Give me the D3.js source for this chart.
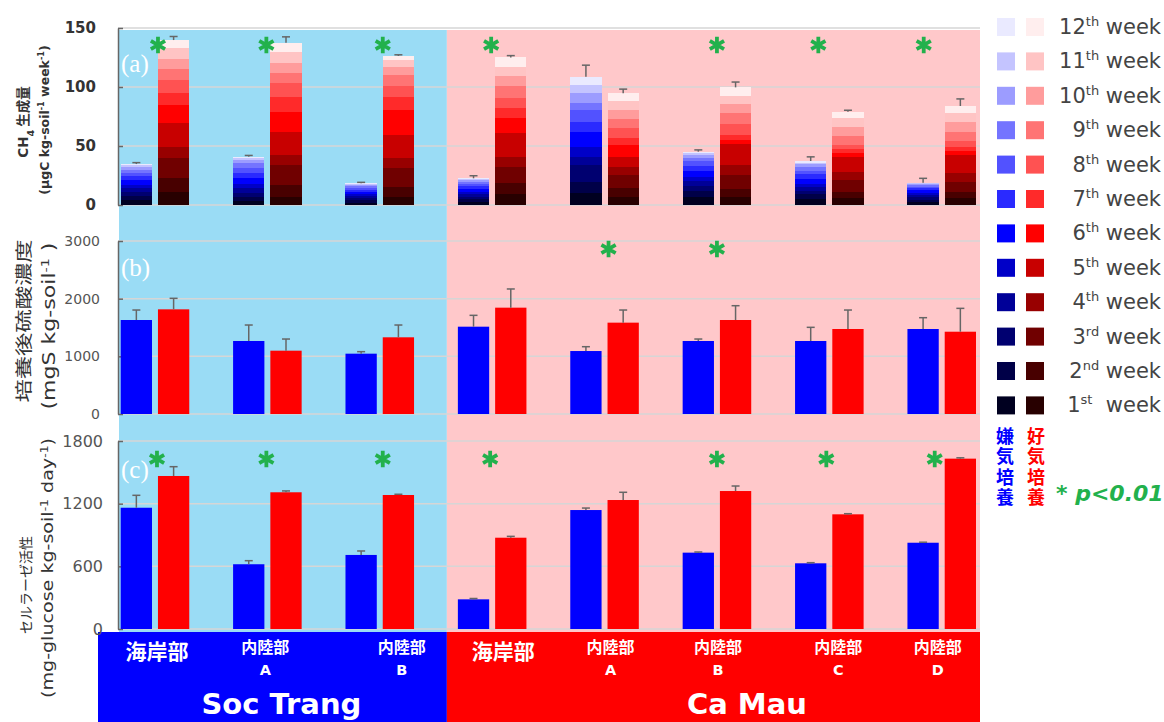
<!DOCTYPE html>
<html>
<head>
<meta charset="utf-8">
<script src="https://cdn.jsdelivr.net/npm/d3@7"></script>
<style>
  body { margin: 0; background: #fff; }
  svg { display: block; }
</style>
</head>
<body>
<svg id="chart" width="1164" height="722"></svg>
<script>
// ---- data ----
const categories = ["ST-coast", "ST-A", "ST-B", "CM-coast", "CM-A", "CM-B", "CM-C", "CM-D"];
const siteNames = ["海岸部", "内陸部", "内陸部", "海岸部", "内陸部", "内陸部", "内陸部", "内陸部"];
const siteSubs = ["", "A", "B", "", "A", "B", "C", "D"];
const regionNames = ["Soc Trang", "Ca Mau"];
const regionOf = [0, 0, 0, 1, 1, 1, 1, 1];
const treatments = ["anaerobic", "aerobic"];
const weekNums = ["1", "2", "3", "4", "5", "6", "7", "8", "9", "10", "11", "12"];
const weekSuffix = ["st", "nd", "rd", "th", "th", "th", "th", "th", "th", "th", "th", "th"];

// (a) weekly CH4 production, 1st..12th week
const ch4Anaerobic = [
  [4.0, 3.5, 3.5, 3.0, 3.0, 4.0, 3.5, 3.0, 2.5, 2.0, 1.5, 1.2],
  [3.5, 3.5, 3.5, 3.5, 4.0, 4.5, 4.5, 4.5, 4.5, 2.0, 1.5, 1.5],
  [2.0, 2.0, 2.0, 1.5, 1.5, 2.0, 2.0, 1.5, 1.5, 1.0, 0.8, 0.6],
  [2.5, 2.5, 2.0, 2.0, 2.0, 2.5, 2.5, 2.0, 1.8, 1.3, 1.0, 0.5],
  [9.9, 9.9, 14.1, 7.0, 8.5, 12.7, 8.5, 9.9, 6.2, 8.0, 7.0, 7.0],
  [7.0, 5.0, 4.0, 4.0, 4.0, 5.0, 4.0, 4.0, 3.0, 2.5, 1.5, 1.2],
  [5.0, 4.0, 3.0, 3.0, 3.0, 4.0, 4.0, 3.0, 3.0, 2.5, 1.5, 1.3],
  [2.5, 2.0, 2.0, 2.0, 2.0, 2.0, 1.5, 1.5, 1.2, 1.0, 0.8, 0.4]
];
const ch4Aerobic = [
  [11.3, 11.3, 16.9, 9.9, 19.8, 15.5, 9.9, 11.3, 9.1, 8.9, 8.8, 7.1],
  [7.1, 9.8, 17.0, 8.5, 19.7, 17.0, 12.7, 11.3, 8.5, 8.5, 9.8, 7.6],
  [7.1, 8.4, 15.6, 8.4, 19.8, 21.2, 11.3, 9.0, 9.4, 7.0, 5.7, 3.4],
  [9.0, 9.4, 14.1, 8.5, 19.7, 12.7, 9.1, 7.9, 10.4, 8.5, 7.9, 7.9],
  [7.1, 7.0, 11.3, 7.1, 8.5, 9.8, 5.7, 8.5, 7.6, 7.9, 7.9, 6.3],
  [7.1, 6.2, 12.1, 8.5, 17.8, 3.4, 4.2, 9.3, 9.1, 7.9, 7.1, 7.0],
  [5.6, 5.7, 9.9, 7.0, 12.8, 2.8, 3.4, 3.6, 7.7, 7.3, 7.6, 5.7],
  [5.6, 5.7, 8.5, 7.0, 15.6, 3.7, 3.3, 5.1, 7.6, 8.0, 7.6, 6.2]
];
const ch4AnaerobicSE = [1.2, 1.0, 0.8, 2.2, 9.8, 1.5, 3.5, 3.7];
const ch4AerobicSE = [3.0, 5.0, 1.0, 1.5, 3.5, 4.5, 1.2, 6.0];

// (b) sulfate concentration after incubation
const sulfateAnaerobic = [1630, 1266, 1046, 1514, 1092, 1266, 1266, 1474];
const sulfateAnaerobicSE = [173, 277, 35, 197, 75, 34, 237, 196];
const sulfateAerobic = [1815, 1098, 1330, 1844, 1584, 1630, 1474, 1427];
const sulfateAerobicSE = [191, 202, 213, 324, 219, 248, 329, 405];

// (c) cellulase activity
const cellulaseAnaerobic = [1161, 620, 709, 284, 1139, 731, 629, 826];
const cellulaseAnaerobicSE = [119, 34, 38, 8, 19, 6, 6, 5];
const cellulaseAerobic = [1465, 1309, 1283, 874, 1235, 1321, 1098, 1631];
const cellulaseAerobicSE = [89, 13, 7, 13, 74, 48, 6, 8];

// significance (p<0.01) between treatments
const sigCH4 = [1, 1, 1, 1, 0, 1, 1, 1];
const sigSulfate = [0, 0, 0, 0, 1, 1, 0, 0];
const sigCellulase = [1, 1, 1, 1, 0, 1, 1, 1];

const ch4Ticks = [0, 50, 100, 150];
const sulfateTicks = [0, 1000, 2000, 3000];
const cellulaseTicks = [0, 600, 1200, 1800];

// ---- styling ----
const anaColors = ["#000020", "#000048", "#000070", "#000098", "#0000c8", "#0000ff",
                   "#2a2aff", "#5252ff", "#7474ff", "#9c9cff", "#c4c4ff", "#eaeaff"];
const aeroColors = ["#280000", "#480000", "#700000", "#980000", "#c80000", "#ff0000",
                    "#ff2a2a", "#ff5252", "#ff7474", "#ff9c9c", "#ffc4c4", "#ffeeee"];
const green = "#22b14c";
const blueBg = "#9adcf5", pinkBg = "#ffc8ca";

const svg = d3.select("#chart");
const plotLeft = 118, plotRight = 980;

const x = d3.scaleBand().domain(categories).range([120.7, 976]).paddingInner(0.39).paddingOuter(0);
const xSub = d3.scaleBand().domain(treatments).range([0, x.bandwidth()]).paddingInner(0.16);
const split = x(categories[3]) - 11;
const cx = i => x(categories[i]) + x.bandwidth() / 2;

const yA = d3.scaleLinear().domain([0, 150]).range([205, 28]);
const yB = d3.scaleLinear().domain([0, 3000]).range([414, 241]);
const yC = d3.scaleLinear().domain([0, 1800]).range([629, 441]);

// background regions
const bgTop = 30, bgBottom = 632;
svg.append("rect").attr("x", plotLeft + 1).attr("y", bgTop)
  .attr("width", split - plotLeft - 1).attr("height", bgBottom - bgTop).attr("fill", blueBg);
svg.append("rect").attr("x", split).attr("y", bgTop)
  .attr("width", plotRight - split).attr("height", bgBottom - bgTop).attr("fill", pinkBg);

// category band along the bottom
svg.append("rect").attr("x", 98).attr("y", bgBottom).attr("width", split - 98)
  .attr("height", 722 - bgBottom).attr("fill", "#0000ff");
svg.append("rect").attr("x", split).attr("y", bgBottom).attr("width", plotRight - split)
  .attr("height", 722 - bgBottom).attr("fill", "#ff0000");

// gridlines + axes
function drawAxis(y, ticks, opts) {
  svg.append("g").selectAll("line").data(ticks).join("line")
    .attr("x1", plotLeft).attr("x2", plotRight)
    .attr("y1", d => y(d)).attr("y2", d => y(d))
    .attr("stroke", "#d6d6d6").attr("stroke-width", 1.5);
  const g = svg.append("g").attr("transform", `translate(${plotLeft},0)`)
    .call(d3.axisLeft(y).tickValues(ticks).tickSizeInner(-5).tickSizeOuter(0)
      .tickPadding(opts.pad).tickFormat(d3.format("d")));
  g.select(".domain").attr("stroke", "#666").attr("stroke-width", 1.5);
  g.selectAll(".tick line").attr("stroke", "#666").attr("stroke-width", 1.5);
  g.selectAll(".tick text")
    .attr("font-family", "DejaVu Sans, sans-serif")
    .attr("font-size", opts.size).attr("font-weight", opts.weight)
    .attr("fill", opts.color);
}
drawAxis(yA, ch4Ticks, { pad: 22, size: 15, weight: "bold", color: "#333" });
drawAxis(yB, sulfateTicks, { pad: 18, size: 14, weight: "normal", color: "#555" });
drawAxis(yC, cellulaseTicks, { pad: 15, size: 16, weight: "normal", color: "#555" });

// error bar helper
function errorBar(g, xc, yTop, yEnd) {
  g.append("line").attr("x1", xc).attr("x2", xc).attr("y1", yTop).attr("y2", yEnd)
    .attr("stroke", "#666").attr("stroke-width", 1.5);
  g.append("line").attr("x1", xc - 4).attr("x2", xc + 4).attr("y1", yEnd).attr("y2", yEnd)
    .attr("stroke", "#666").attr("stroke-width", 1.5);
}

// (a) stacked weekly CH4 bars
const stackGen = d3.stack().keys(d3.range(12)).value((d, k) => d[k]);
[[ch4Anaerobic, anaColors, "anaerobic", ch4AnaerobicSE],
 [ch4Aerobic, aeroColors, "aerobic", ch4AerobicSE]].forEach(([rows, colors, t, se]) => {
  const series = stackGen(rows);
  const g = svg.append("g").attr("shape-rendering", "crispEdges");
  series.forEach((s, k) => {
    g.selectAll(null).data(s).join("rect")
      .attr("x", (d, i) => x(categories[i]) + xSub(t))
      .attr("width", xSub.bandwidth())
      .attr("y", d => Math.round(yA(d[1])))
      .attr("height", d => Math.round(yA(d[0])) - Math.round(yA(d[1])))
      .attr("fill", colors[k]);
  });
  const eg = svg.append("g");
  rows.forEach((r, i) => {
    const total = d3.sum(r);
    const xc = x(categories[i]) + xSub(t) + xSub.bandwidth() / 2;
    errorBar(eg, xc, yA(total), yA(total + se[i]));
  });
});

// (b), (c) simple bars
function simpleBars(y, vals, se, t, color) {
  const g = svg.append("g");
  g.selectAll("rect").data(vals).join("rect")
    .attr("x", (d, i) => x(categories[i]) + xSub(t))
    .attr("width", xSub.bandwidth())
    .attr("y", d => y(d))
    .attr("height", d => y(0) - y(d))
    .attr("fill", color);
  vals.forEach((v, i) => {
    const xc = x(categories[i]) + xSub(t) + xSub.bandwidth() / 2;
    errorBar(g, xc, y(v), y(v + se[i]));
  });
}
simpleBars(yB, sulfateAnaerobic, sulfateAnaerobicSE, "anaerobic", anaColors[5]);
simpleBars(yB, sulfateAerobic, sulfateAerobicSE, "aerobic", aeroColors[5]);
simpleBars(yC, cellulaseAnaerobic, cellulaseAnaerobicSE, "anaerobic", anaColors[5]);
simpleBars(yC, cellulaseAerobic, cellulaseAerobicSE, "aerobic", aeroColors[5]);

// significance asterisks
const star = d3.symbol().type(d3.symbolAsterisk).size(190);
function stars(flags, yPos, nudge) {
  flags.forEach((f, i) => {
    if (!f) return;
    svg.append("path").attr("d", star())
      .attr("transform", `translate(${cx(i) + nudge[i]},${yPos})`)
      .attr("fill", "none").attr("stroke", green).attr("stroke-width", 3.8);
  });
}
stars(sigCH4, yA(150) + 17, [3, -1, 3, -1, 0, 0, -11, -18]);
stars(sigSulfate, yB(3000) + 8, [0, 0, 0, 0, 4, 0, 0, 0]);
stars(sigCellulase, yC(1800) + 18, [2, -1, 3, -2, 0, 0, -3, -7]);

// panel letters
[["(a)", yA(150) + 44], ["(b)", yB(3000) + 35], ["(c)", yC(1800) + 37]].forEach(([t, yy]) => {
  svg.append("text").attr("x", 121).attr("y", yy).text(t)
    .attr("font-family", "Liberation Serif, serif").attr("font-size", 25).attr("fill", "#fff");
});

// y-axis titles
function vTitle(xb, yc, size, weight, len, build, color) {
  const t = svg.append("text")
    .attr("transform", `translate(${xb},${yc}) rotate(-90)`)
    .attr("text-anchor", "middle")
    .attr("font-family", "DejaVu Sans, Noto Sans CJK JP, sans-serif")
    .attr("font-size", size).attr("font-weight", weight).attr("fill", color || "#333");
  if (len) t.attr("textLength", len).attr("lengthAdjust", "spacingAndGlyphs");
  build(t);
}
function sup(t, s) { t.append("tspan").attr("baseline-shift", "super").attr("font-size", "65%").text(s); }

vTitle(28, 122, 13.5, "bold", null, t => {
  t.append("tspan").text("CH");
  t.append("tspan").attr("baseline-shift", "sub").attr("font-size", "70%").text("4");
  t.append("tspan").attr("font-family", "Noto Sans CJK JP").text(" 生成量");
});
vTitle(49, 120, 12.5, "bold", null, t => {
  t.append("tspan").text("(μgC kg-soil");
  sup(t, "-1");
  t.append("tspan").text(" week");
  sup(t, "-1");
  t.append("tspan").text(")");
});
vTitle(30, 321, 17, "normal", 163, t => {
  t.append("tspan").attr("font-family", "Noto Sans CJK JP").text("培養後硫酸濃度");
});
vTitle(55, 326, 17, "normal", 167, t => {
  t.append("tspan").text("(mgS kg-soil");
  sup(t, "-1");
  t.append("tspan").text(" )");
});
vTitle(31, 585, 14, "normal", null, t => {
  t.append("tspan").attr("font-family", "Noto Sans CJK JP").text("セルラーゼ活性");
});
vTitle(53, 568, 15, "normal", 260, t => {
  t.append("tspan").text("(mg-glucose kg-soil");
  sup(t, "-1");
  t.append("tspan").text(" day");
  sup(t, "-1");
  t.append("tspan").text(")");
});

// category labels in the bottom band
const labelNudge = [2, -2, 22, 11, 6, 1, 9, -4];
categories.forEach((c, i) => {
  const big = siteSubs[i] === "";
  const lx = cx(i) + labelNudge[i];
  svg.append("text").attr("x", lx).attr("y", big ? 659 : 653)
    .attr("text-anchor", "middle")
    .attr("font-family", "Noto Sans CJK JP, sans-serif").attr("font-weight", "bold")
    .attr("font-size", big ? 21 : 16).attr("fill", "#fff").text(siteNames[i]);
  if (!big) {
    svg.append("text").attr("x", lx).attr("y", 675).attr("text-anchor", "middle")
      .attr("font-family", "DejaVu Sans, sans-serif").attr("font-weight", "bold")
      .attr("font-size", 14.5).attr("fill", "#fff").text(siteSubs[i]);
  }
});
regionNames.forEach((r, k) => {
  const idx = d3.range(categories.length).filter(i => regionOf[i] === k);
  const mid = d3.mean(idx, cx);
  svg.append("text").attr("x", mid + (k === 0 ? 14 : 30)).attr("y", 714)
    .attr("text-anchor", "middle")
    .attr("font-family", "DejaVu Sans, sans-serif").attr("font-weight", "bold")
    .attr("font-size", 29).attr("fill", "#fff").text(r);
});

// legend (12th week at top)
const legend = svg.append("g");
const order = d3.range(11, -1, -1);
order.forEach((w, row) => {
  const yc = 27 + row * 34.4;
  legend.append("rect").attr("x", 997).attr("y", yc - 9).attr("width", 18).attr("height", 18)
    .attr("fill", anaColors[w]);
  legend.append("rect").attr("x", 1026).attr("y", yc - 9).attr("width", 18).attr("height", 18)
    .attr("fill", aeroColors[w]);
  const t = legend.append("text").attr("x", 1161).attr("y", yc + 7).attr("text-anchor", "end")
    .attr("font-family", "DejaVu Sans, sans-serif").attr("font-size", 21).attr("fill", "#444");
  t.append("tspan").text(weekNums[w]);
  t.append("tspan").attr("font-size", 13).attr("dy", -8).text(weekSuffix[w]);
  t.append("tspan").attr("dy", 8).text(w === 0 ? "\u00a0 week" : " week");
});

// treatment key (vertical text)
[["嫌気培養", "#0000ff", 1005], ["好気培養", "#ff0000", 1036]].forEach(([s, col, xc]) => {
  svg.append("text").attr("x", xc).attr("y", 427)
    .style("writing-mode", "vertical-rl")
    .attr("font-family", "Noto Sans CJK JP, sans-serif").attr("font-weight", "bold")
    .attr("font-size", 18).attr("letter-spacing", 2.5).attr("fill", col).text(s);
});
const pt = svg.append("text").attr("x", 1056).attr("y", 501)
  .attr("font-family", "DejaVu Sans, sans-serif").attr("font-weight", "bold")
  .attr("font-size", 22).attr("fill", green);
pt.append("tspan").text("* ");
pt.append("tspan").attr("font-style", "italic").text("p<0.01");
</script>
</body>
</html>
